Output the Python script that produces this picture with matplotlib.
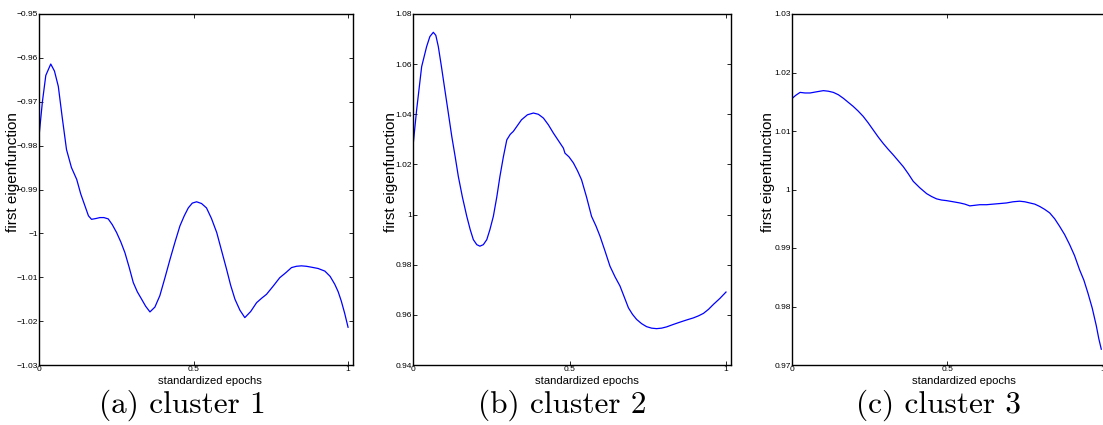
import matplotlib
matplotlib.use("Agg")
import matplotlib.pyplot as plt

# ---------------- data ----------------
x_a = [0.0, 0.011, 0.022, 0.038, 0.050, 0.0625, 0.075, 0.089, 0.105, 0.122, 0.135, 0.149, 0.160, 0.170,
       0.185, 0.197, 0.210, 0.224, 0.237, 0.251, 0.265, 0.278, 0.292, 0.305, 0.318, 0.332, 0.345, 0.359,
       0.375, 0.391, 0.408, 0.424, 0.440, 0.456, 0.470, 0.483, 0.496, 0.51, 0.526, 0.542, 0.558, 0.575,
       0.591, 0.607, 0.620, 0.634, 0.650, 0.666, 0.685, 0.704, 0.720, 0.736, 0.758, 0.779, 0.798, 0.817,
       0.833, 0.849, 0.865, 0.881, 0.903, 0.925, 0.942, 0.957, 0.968, 0.978, 0.989, 1.0]
y_a = [-0.9779, -0.9700, -0.9640, -0.9614, -0.9630, -0.9665, -0.9735, -0.9809, -0.9850, -0.9877, -0.9910,
       -0.9938, -0.9960, -0.9968, -0.9966, -0.9964, -0.9964, -0.9967, -0.9980, -0.9998, -1.0020, -1.0044,
       -1.0078, -1.0112, -1.0133, -1.0150, -1.0166, -1.0179, -1.0168, -1.0142, -1.0100, -1.0059, -1.0020,
       -0.9983, -0.9960, -0.9942, -0.9931, -0.9928, -0.9932, -0.9942, -0.9966, -0.9998, -1.0040, -1.0082,
       -1.0118, -1.0150, -1.0175, -1.0192, -1.0178, -1.0158, -1.0148, -1.0139, -1.0120, -1.0101, -1.0090,
       -1.0078, -1.0075, -1.0074, -1.0075, -1.0077, -1.0080, -1.0086, -1.0098, -1.0116, -1.0133, -1.0154,
       -1.0182, -1.0214]

x_b = [0.0, 0.0107, 0.0267, 0.0426, 0.053, 0.064, 0.072, 0.080, 0.090, 0.101, 0.112, 0.123, 0.134, 0.144,
       0.157, 0.171, 0.182, 0.192, 0.203, 0.213, 0.224, 0.235, 0.245, 0.256, 0.267, 0.277, 0.288, 0.299,
       0.310, 0.320, 0.333, 0.346, 0.365, 0.384, 0.400, 0.416, 0.432, 0.448, 0.464, 0.480, 0.485, 0.498,
       0.512, 0.525, 0.538, 0.554, 0.570, 0.584, 0.597, 0.613, 0.629, 0.645, 0.661, 0.675, 0.688, 0.701,
       0.714, 0.730, 0.746, 0.762, 0.778, 0.794, 0.810, 0.832, 0.853, 0.875, 0.896, 0.912, 0.928, 0.944,
       0.960, 0.980, 1.0]
y_b = [1.0285, 1.0418, 1.0590, 1.0670, 1.0710, 1.0727, 1.0715, 1.0670, 1.0590, 1.0497, 1.0405, 1.0312,
       1.0230, 1.0152, 1.0070, 0.9993, 0.9940, 0.9900, 0.9880, 0.9874, 0.9880, 0.9900, 0.9940, 0.9993,
       1.0070, 1.0152, 1.0230, 1.0298, 1.0320, 1.0332, 1.0355, 1.0378, 1.0398, 1.0405, 1.0400, 1.0385,
       1.0358, 1.0325, 1.0295, 1.0265, 1.0245, 1.0230, 1.0206, 1.0175, 1.0139, 1.0070, 0.9993, 0.9955,
       0.9914, 0.9855, 0.9794, 0.9752, 0.9715, 0.9670, 0.9628, 0.9602, 0.9582, 0.9565, 0.9553, 0.9547,
       0.9545, 0.9547, 0.9552, 0.9562, 0.9571, 0.9580, 0.9588, 0.9596, 0.9606, 0.9622, 0.9642, 0.9665,
       0.9691]

x_c = [0.0, 0.013, 0.027, 0.043, 0.059, 0.080, 0.102, 0.118, 0.134, 0.150, 0.166, 0.182, 0.198, 0.214,
       0.230, 0.246, 0.262, 0.278, 0.294, 0.310, 0.327, 0.343, 0.359, 0.375, 0.391, 0.412, 0.434, 0.450,
       0.466, 0.482, 0.498, 0.520, 0.541, 0.557, 0.573, 0.589, 0.605, 0.627, 0.648, 0.670, 0.691, 0.712,
       0.733, 0.750, 0.766, 0.782, 0.798, 0.814, 0.830, 0.846, 0.862, 0.878, 0.894, 0.910, 0.926, 0.940,
       0.953, 0.967, 0.980, 0.988, 0.996]
y_c = [1.0155, 1.0161, 1.0166, 1.0165, 1.0165, 1.0167, 1.0169, 1.0168, 1.0166, 1.0162, 1.0156, 1.0149,
       1.0142, 1.0134, 1.0125, 1.0114, 1.0102, 1.0090, 1.0079, 1.0069, 1.0059, 1.0049, 1.0039, 1.0027,
       1.0014, 1.0003, 0.9993, 0.9988, 0.9984, 0.9982, 0.9981, 0.9979, 0.9977, 0.9975, 0.9972, 0.9973,
       0.9974, 0.9974, 0.9975, 0.9976, 0.9977, 0.9979, 0.9980, 0.9979, 0.9977, 0.9975, 0.9971, 0.9966,
       0.9960, 0.9950, 0.9937, 0.9923, 0.9906, 0.9887, 0.9863, 0.9845, 0.9823, 0.9797, 0.9767, 0.9745,
       0.9727]

yticks_a = [-0.95, -0.96, -0.97, -0.98, -0.99, -1.00, -1.01, -1.02, -1.03]
ytick_labels_a = ["\u22120.95", "\u22120.96", "\u22120.97", "\u22120.98", "\u22120.99", "\u22121",
                  "\u22121.01", "\u22121.02", "\u22121.03"]
yticks_b = [0.94, 0.96, 0.98, 1.00, 1.02, 1.04, 1.06, 1.08]
ytick_labels_b = ["0.94", "0.96", "0.98", "1", "1.02", "1.04", "1.06", "1.08"]
yticks_c = [0.97, 0.98, 0.99, 1.00, 1.01, 1.02, 1.03]
ytick_labels_c = ["0.97", "0.98", "0.99", "1", "1.01", "1.02", "1.03"]
xticks = [0, 0.5, 1]
xtick_labels = ["0", "0.5", "1"]
captions = ["(a) cluster 1", "(b) cluster 2", "(c) cluster 3"]
xlabel = "standardized epochs"
ylabel = "first eigenfunction"

# ---------------- figure ----------------
W, H = 1103, 425
fig = plt.figure(figsize=(W / 100, H / 100), dpi=100)

sans = ["Liberation Sans Narrow", "Liberation Sans", "DejaVu Sans"]

def px_axes(left, right, top, bottom):
    return [left / W, 1 - bottom / H, (right - left) / W, (bottom - top) / H]

panels = [
    dict(pos=px_axes(39, 353, 14, 365), x=x_a, y=y_a, yt=yticks_a, ytl=ytick_labels_a,
         ylim=(-1.03, -0.95), xmax=1.016, cap_x=182, ylx=-0.060),
    dict(pos=px_axes(413.3, 731, 14, 365), x=x_b, y=y_b, yt=yticks_b, ytl=ytick_labels_b,
         ylim=(0.94, 1.08), xmax=1.016, cap_x=562, ylx=-0.048),
    dict(pos=px_axes(791.7, 1107.5, 14, 365), x=x_c, y=y_c, yt=yticks_c, ytl=ytick_labels_c,
         ylim=(0.97, 1.03), xmax=1.016, cap_x=939, ylx=-0.053),
]

for i, p in enumerate(panels):
    ax = fig.add_axes(p["pos"])
    ax.plot(p["x"], p["y"], color="#0000ff", lw=0.9)
    ax.set_xlim(0, p["xmax"])
    ax.set_ylim(*p["ylim"])
    ax.set_yticks(p["yt"])
    ax.set_yticklabels(p["ytl"], fontfamily=sans, fontsize=6.0)
    ax.set_xticks(xticks)
    ax.set_xticklabels(xtick_labels, fontfamily=sans, fontsize=6.0)
    ax.tick_params(direction="in", length=3, width=0.6, top=True, right=True, pad=0.8)
    for s in ax.spines.values():
        s.set_linewidth(1.0)
    ax.set_xlabel(xlabel, fontfamily=sans, fontsize=8.1)
    ax.xaxis.set_label_coords(0.545, -0.031)
    ax.set_ylabel(ylabel, fontfamily=sans, fontsize=11)
    ax.yaxis.set_label_coords(p["ylx"], 0.55)
    fig.text(p["cap_x"] / W, 1 - 405 / H, captions[i], fontfamily="cmr10", fontsize=22.5,
             ha="center", va="center")

fig.savefig("out.png", dpi=100)
